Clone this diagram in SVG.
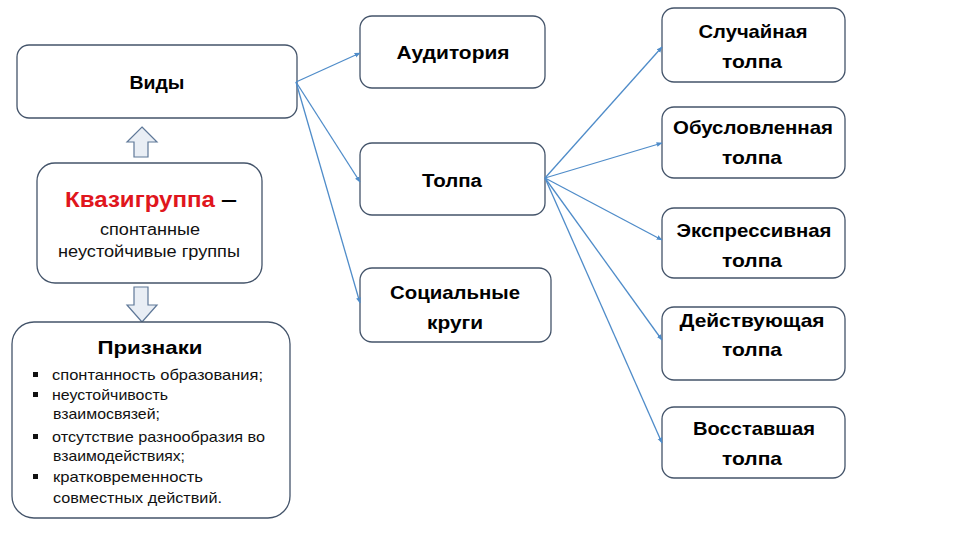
<svg xmlns="http://www.w3.org/2000/svg" width="960" height="540" viewBox="0 0 960 540">
<defs>
<style>
.box{fill:#fff;stroke:#44546a;stroke-width:1.3}
.blk{fill:#e9eef5;stroke:#5f7898;stroke-width:1.2}
.c{fill:none;stroke:#4f8cc9;stroke-width:1.3;marker-end:url(#ah)}
.t{font-family:"Liberation Sans",Arial,sans-serif;font-weight:bold;fill:#000;text-anchor:middle}
.b{font-family:"Liberation Sans",Arial,sans-serif;font-size:19px;font-weight:bold;fill:#000;text-anchor:middle}
.s{font-family:"Liberation Sans",Arial,sans-serif;font-size:14.5px;fill:#111}
</style>
<marker id="ah" viewBox="0 0 10 10" refX="9" refY="5" markerWidth="6" markerHeight="6" orient="auto" markerUnits="userSpaceOnUse">
<path d="M0,1 L10,5 L0,9 z" fill="#4f8cc9"/>
</marker>
</defs>
<rect width="960" height="540" fill="#fff"/>

<g id="vidy">
<rect class="box" x="17" y="45" width="280" height="73" rx="12"/>
<text class="t" x="157" y="89" font-size="17.5" textLength="55" lengthAdjust="spacingAndGlyphs">Виды</text>
</g>

<g id="arrow-up">
<path class="blk" d="M142,127 L157,142 L148,142 L148,157 L134,157 L134,142 L127,142 Z"/>
</g>

<g id="kvazi">
<rect class="box" x="37" y="163" width="225" height="120" rx="18"/>
<text font-family="'Liberation Sans',Arial,sans-serif" font-size="22" font-weight="bold" x="65" y="207" fill="#e0161d" textLength="150" lengthAdjust="spacingAndGlyphs">Квазигруппа</text>
<text font-family="'Liberation Sans',Arial,sans-serif" font-size="20" font-weight="bold" x="221" y="206" fill="#000" textLength="16" lengthAdjust="spacingAndGlyphs">–</text>
<text font-family="'Liberation Sans',Arial,sans-serif" font-size="16" x="150" y="235" text-anchor="middle" fill="#111" textLength="100" lengthAdjust="spacingAndGlyphs">спонтанные</text>
<text font-family="'Liberation Sans',Arial,sans-serif" font-size="16" x="149" y="257" text-anchor="middle" fill="#111" textLength="182" lengthAdjust="spacingAndGlyphs">неустойчивые группы</text>
</g>

<g id="arrow-down">
<path class="blk" d="M134,287 L148,287 L148,305 L157,305 L142,322 L127,305 L134,305 Z"/>
</g>

<g id="priznaki">
<rect class="box" x="12" y="322" width="278" height="196" rx="22"/>
<text class="t" x="150" y="354" font-size="19" textLength="105" lengthAdjust="spacingAndGlyphs">Признаки</text>
<rect x="33" y="372" width="5" height="5" fill="#111"/>
<rect x="33" y="392" width="5" height="5" fill="#111"/>
<rect x="33" y="434" width="5" height="5" fill="#111"/>
<rect x="33" y="474" width="5" height="5" fill="#111"/>
<text class="s" x="52" y="380" textLength="211" lengthAdjust="spacingAndGlyphs">спонтанность образования;</text>
<text class="s" x="52" y="400" textLength="116" lengthAdjust="spacingAndGlyphs">неустойчивость</text>
<text class="s" x="53" y="419" textLength="107" lengthAdjust="spacingAndGlyphs">взаимосвязей;</text>
<text class="s" x="52" y="442" textLength="213" lengthAdjust="spacingAndGlyphs">отсутствие разнообразия во</text>
<text class="s" x="53" y="461" textLength="132" lengthAdjust="spacingAndGlyphs">взаимодействиях;</text>
<text class="s" x="53" y="482" textLength="150" lengthAdjust="spacingAndGlyphs">кратковременность</text>
<text class="s" x="53" y="503" textLength="169" lengthAdjust="spacingAndGlyphs">совместных действий.</text>
</g>

<g id="auditoriya">
<rect class="box" x="360" y="16" width="185" height="72" rx="12"/>
<text class="t" x="453" y="59" font-size="17.5" textLength="113" lengthAdjust="spacingAndGlyphs">Аудитория</text>
</g>

<g id="tolpa">
<rect class="box" x="360" y="143" width="185" height="72" rx="12"/>
<text class="t" x="452" y="187" font-size="17.5" textLength="60" lengthAdjust="spacingAndGlyphs">Толпа</text>
</g>

<g id="socialnye">
<rect class="box" x="360" y="268" width="191" height="74" rx="12"/>
<text class="b" x="455" y="299" textLength="130" lengthAdjust="spacingAndGlyphs">Социальные</text>
<text class="b" x="455" y="329" textLength="56" lengthAdjust="spacingAndGlyphs">круги</text>
</g>

<g id="sluchaynaya">
<rect class="box" x="662" y="8" width="183" height="74" rx="12"/>
<text class="b" x="753" y="38" textLength="109" lengthAdjust="spacingAndGlyphs">Случайная</text>
<text class="b" x="752" y="68" textLength="60" lengthAdjust="spacingAndGlyphs">толпа</text>
</g>

<g id="obuslovlennaya">
<rect class="box" x="662" y="107" width="183" height="71" rx="12"/>
<text class="b" x="753" y="134" textLength="160" lengthAdjust="spacingAndGlyphs">Обусловленная</text>
<text class="b" x="752" y="164" textLength="60" lengthAdjust="spacingAndGlyphs">толпа</text>
</g>

<g id="ekspressivnaya">
<rect class="box" x="662" y="208" width="183" height="70" rx="12"/>
<text class="b" x="754" y="237" textLength="155" lengthAdjust="spacingAndGlyphs">Экспрессивная</text>
<text class="b" x="752" y="267" textLength="60" lengthAdjust="spacingAndGlyphs">толпа</text>
</g>

<g id="deystvuyushchaya">
<rect class="box" x="662" y="307" width="183" height="73" rx="12"/>
<text class="b" x="752" y="327" textLength="145" lengthAdjust="spacingAndGlyphs">Действующая</text>
<text class="b" x="752" y="356" textLength="60" lengthAdjust="spacingAndGlyphs">толпа</text>
</g>

<g id="vosstavshaya">
<rect class="box" x="662" y="407" width="183" height="71" rx="12"/>
<text class="b" x="754" y="435" textLength="122" lengthAdjust="spacingAndGlyphs">Восставшая</text>
<text class="b" x="752" y="465" textLength="60" lengthAdjust="spacingAndGlyphs">толпа</text>
</g>

<g id="connectors">
<line class="c" x1="296" y1="82" x2="360" y2="53"/>
<line class="c" x1="296" y1="82" x2="360" y2="182"/>
<line class="c" x1="296" y1="82" x2="360" y2="303"/>
<line class="c" x1="545" y1="178" x2="662" y2="47"/>
<line class="c" x1="545" y1="178" x2="662" y2="143"/>
<line class="c" x1="545" y1="178" x2="662" y2="240"/>
<line class="c" x1="545" y1="178" x2="662" y2="340"/>
<line class="c" x1="545" y1="178" x2="662" y2="443"/>
</g>
</svg>
